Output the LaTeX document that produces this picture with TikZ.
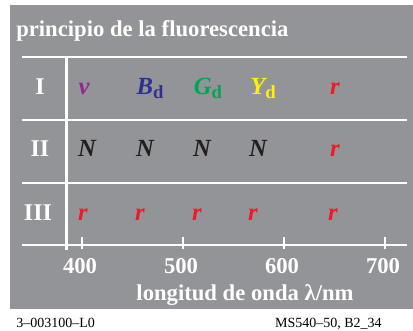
\documentclass[tikz,border=0pt]{standalone}
\usepackage{fontspec}
\setmainfont{Liberation Serif}
\usetikzlibrary{positioning}
\definecolor{panelgray}{RGB}{147,148,152}
\definecolor{violetv}{RGB}{146,39,143}
\definecolor{blued}{RGB}{46,49,146}
\definecolor{greend}{RGB}{0,166,81}
\definecolor{yellowd}{RGB}{255,242,0}
\definecolor{redr}{RGB}{237,28,36}
\definecolor{blackn}{RGB}{35,31,32}
\tikzset{
    % Define standard node styles
    gridline/.style={
        draw=white, line width=1.9pt
    },
    rowlabel/.style={
        anchor=base, inner sep=0pt, text=white,
        font=\fontsize{18}{20}\selectfont\bfseries
    },
    colorletter/.style={
        anchor=base, inner sep=0pt,
        font=\fontsize{18.5}{20}\selectfont\bfseries\itshape
    },
    ticklabel/.style={
        anchor=base, inner sep=0pt, text=white,
        font=\fontsize{17}{20}\selectfont\bfseries
    },
    footnote/.style={
        anchor=base, inner sep=0pt,
        font=\fontsize{10.5}{12}\selectfont
    }
}
\newcommand{\dsub}{\raisebox{-3pt}{\fontsize{14}{16}\selectfont\upshape d}}

\begin{document}
\begin{tikzpicture}[x=0.75pt, y=-0.75pt]
\useasboundingbox (0,0) rectangle (413,331);

% Gray panel
\fill[panelgray] (10,5) rectangle (413,309);
\node[anchor=base west, inner sep=0pt, text=white,
      font=\fontsize{17}{20}\selectfont\bfseries] (title) at (16,37) {principio de la fluorescencia};

% Grid lines
\draw[gridline] (22,57) -- (407,57);
\draw[gridline] (22,120) -- (407,120);
\draw[gridline] (22,183) -- (407,183);
\draw[gridline] (22,245) -- (407,245);
\draw[gridline] (66.7,57) -- (66.7,250);

% Wavelength ticks
\foreach \lam in {400,500,600,700} {
    \draw[gridline] ({82+(\lam-400)*1.01},237) -- ({82+(\lam-400)*1.01},249);
    \node[ticklabel] (tick\lam) at ({80+(\lam-400)*1.01},273) {\lam};
}
\node[ticklabel] (xlabel) at (245,300) {longitud de onda λ/nm};

% Row I
\node[rowlabel] (rowI) at (40,95) {I};
\node[colorletter, text=violetv] (v) at (84,95) {v};
\node[colorletter, text=blued] (Bd) at (150,95) {B\dsub};
\node[colorletter, text=greend] (Gd) at (208,95) {G\dsub};
\node[colorletter, text=yellowd] (Yd) at (263,95) {Y\dsub};
\node[colorletter, text=redr] (rI) at (335,95) {r};

% Row II
\node[rowlabel] (rowII) at (40,157) {II};
\foreach \x [count=\i] in {87,145,202,258}
    \node[colorletter, text=blackn] (N\i) at (\x,157) {N};
\node[colorletter, text=redr] (rII) at (335,157) {r};

% Row III
\node[rowlabel] (rowIII) at (38,220) {III};
\foreach \x [count=\i] in {83,140,197,253,333}
    \node[colorletter, text=redr] (r\i) at (\x,220) {r};

% Footer codes
\node[footnote, anchor=base west] (code) at (16,327) {3–003100–L0};
\node[footnote, anchor=base east] (ref) at (382,327) {MS540–50, B2\_34};

\end{tikzpicture}
\end{document}
